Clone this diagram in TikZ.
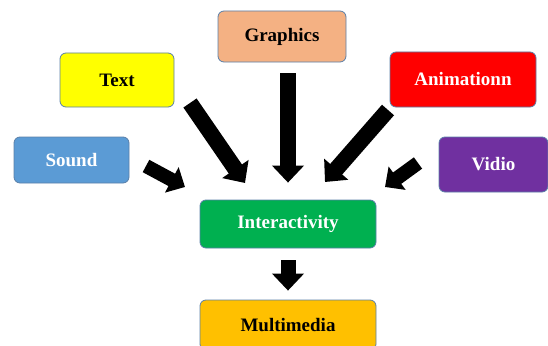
\documentclass[tikz,border=0pt]{standalone}
\usepackage{fontspec}
\setmainfont{Liberation Serif}
\usetikzlibrary{arrows.meta}

\definecolor{boxline}{HTML}{5A7FA8}
\definecolor{graphicscol}{HTML}{F4B183}
\definecolor{textcol}{HTML}{FFFF00}
\definecolor{animcol}{HTML}{FF0000}
\definecolor{soundcol}{HTML}{5B9BD5}
\definecolor{vidiocol}{HTML}{7030A0}
\definecolor{intercol}{HTML}{00B050}
\definecolor{multicol}{HTML}{FFC000}

\begin{document}
\begin{tikzpicture}[x=1pt,y=-1pt,
  box/.style={draw=boxline,line width=0.8pt,rounded corners=6pt,inner sep=0pt,
    font=\fontsize{19}{21}\selectfont\bfseries},
  bigarrow/.style={line width=16pt,black,-{Triangle[width=31pt,length=17pt]}},
  smallarrow/.style={line width=14pt,black,-{Triangle[width=28pt,length=15pt]}}]
\useasboundingbox (0,0) rectangle (548,345);
\node[box,fill=graphicscol,minimum width=128pt,minimum height=51pt] (graphics) at (282,36.5) {Graphics};
\node[box,fill=textcol,minimum width=114pt,minimum height=54pt] (text) at (117,80) {Text};
\node[box,fill=animcol,text=white,minimum width=146pt,minimum height=55pt] (anim) at (463,79.5) {Animationn};
\node[box,fill=soundcol,text=white,minimum width=115pt,minimum height=46pt] (sound) at (71.5,160) {Sound};
\node[box,fill=vidiocol,text=white,minimum width=109pt,minimum height=55pt] (vidio) at (493.5,164.5) {Vidio};
\node[box,fill=intercol,text=white,minimum width=176pt,minimum height=48pt] (inter) at (288,224) {Interactivity};
\node[box,fill=multicol,minimum width=176pt,minimum height=50pt] (multi) at (288,325) {Multimedia};
% free ends of the diagonal arrows
\coordinate (sound-a) at (146,166);
\coordinate (sound-b) at (185,187);
\coordinate (text-a) at (190,103);
\coordinate (text-b) at (245,183);
\coordinate (anim-a) at (388,110);
\coordinate (anim-b) at (325,182);
\coordinate (vidio-a) at (418,163);
\coordinate (vidio-b) at (385,187);
\draw[smallarrow] (sound-a) -- (sound-b);
\draw[bigarrow] (text-a) -- (text-b);
\draw[bigarrow] ([xshift=6pt]graphics.south) -- (inter.north) [shorten <=11pt,shorten >=17pt];
\draw[bigarrow] (anim-a) -- (anim-b);
\draw[smallarrow] (vidio-a) -- (vidio-b);
\draw[bigarrow,line width=15pt] (inter.south) -- (multi.north) [shorten <=12pt,shorten >=9pt];
\end{tikzpicture}
\end{document}
